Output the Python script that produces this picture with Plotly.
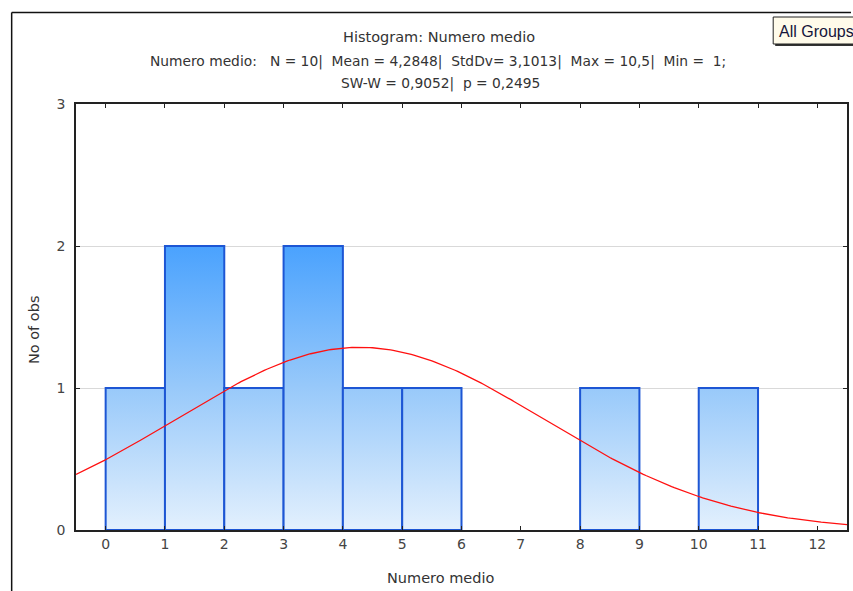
import numpy as np
import plotly.graph_objects as go

# Histogram of "Numero medio": bin edges and counts
bin_left = [0, 1, 2, 3, 4, 5, 8, 10]
bin_right = [1, 2, 3, 4, 5, 6, 9, 11]
counts = [1, 2, 1, 2, 1, 1, 1, 1]

# Summary statistics shown in the header
n_obs = 10
mean_val = 4.2848
std_val = 3.1013
bin_width = 1.0

x_ticks = list(range(0, 13))
y_ticks = [0, 1, 2, 3]

W, H = 853, 591
L, R, T, B = 76, 4, 104, 61
pw, ph = W - L - R, H - T - B


def px_x(p):
    return (p - L) / pw


def px_y(p):
    return (H - B - p) / ph


font_family = "DejaVu Sans, Liberation Sans, sans-serif"
fig = go.Figure()

bar_scale = [[0.0, "#e3f0fd"], [0.5, "#98c9fa"], [1.0, "#4aa2fe"]]
for xl, xr, c in zip(bin_left, bin_right, counts):
    fig.add_trace(go.Scatter(
        x=[xl, xl, xr, xr, xl], y=[0, c, c, 0, 0],
        mode="lines", fill="toself",
        fillgradient=dict(type="vertical", colorscale=bar_scale, start=0, stop=2),
        line=dict(color="#1d56d4", width=2),
        hoverinfo="skip", showlegend=False,
    ))

# Expected normal curve for the stated mean and standard deviation
xc = np.linspace(-0.5, 12.5, 300)
yc = n_obs * bin_width / (std_val * np.sqrt(2 * np.pi)) * np.exp(-0.5 * ((xc - mean_val) / std_val) ** 2)
fig.add_trace(go.Scatter(x=xc, y=yc, mode="lines",
                         line=dict(color="#ff1010", width=1.3),
                         hoverinfo="skip", showlegend=False))

title_font = dict(family=font_family, size=13.8, color="#333333")
label_font = dict(family=font_family, size=14.5, color="#333333")
annotations = [
    dict(text="Histogram: Numero medio", x=px_x(440), y=px_y(37),
         font=dict(family=font_family, size=14.5, color="#333333")),
    dict(text="Numero medio:   N = 10|  Mean = 4,2848|  StdDv= 3,1013|  Max = 10,5|  Min =  1;",
         x=px_x(439), y=px_y(62)),
    dict(text="SW-W = 0,9052|  p = 0,2495", x=px_x(441), y=px_y(83)),
    dict(text="No of obs", x=px_x(34), y=px_y(330), textangle=-90, font=label_font),
    dict(text="Numero medio", x=px_x(441), y=px_y(578), font=label_font),
]
for a in annotations:
    a.setdefault("font", title_font)
    a.update(xref="paper", yref="paper", showarrow=False,
             xanchor="center", yanchor="middle")

annotations.append(dict(
    text="All Groups", xref="paper", yref="paper", x=px_x(779), y=px_y(31),
    xanchor="left", yanchor="middle", showarrow=False,
    font=dict(family="Liberation Sans, Arial, sans-serif", size=16, color="#15153a"),
))

shapes = [
    # outer frame
    dict(type="line", xref="paper", yref="paper",
         x0=px_x(11.5), y0=px_y(591), x1=px_x(11.5), y1=px_y(12.5),
         line=dict(color="#111111", width=1.5)),
    dict(type="line", xref="paper", yref="paper",
         x0=px_x(11.5), y0=px_y(12.5), x1=px_x(853), y1=px_y(12.5),
         line=dict(color="#111111", width=1.5)),
    # legend box with shadow
    dict(type="rect", xref="paper", yref="paper",
         x0=px_x(777), y0=px_y(46), x1=px_x(856), y1=px_y(19),
         fillcolor="#333333", line=dict(width=0)),
    dict(type="rect", xref="paper", yref="paper",
         x0=px_x(775), y0=px_y(44), x1=px_x(856), y1=px_y(17),
         fillcolor="#fffbea", line=dict(color="#222222", width=1)),
]

axis_common = dict(
    showline=True, linecolor="#222222", linewidth=1.5, mirror="ticks",
    ticks="inside", ticklen=4, tickcolor="#222222",
    tickfont=dict(family=font_family, size=14, color="#444444"),
    zeroline=False,
)

fig.update_layout(
    width=W, height=H,
    margin=dict(l=L, r=R, t=T, b=B),
    paper_bgcolor="white", plot_bgcolor="white",
    xaxis=dict(range=[-0.5, 12.5], tickmode="array", tickvals=x_ticks,
               showgrid=False, **axis_common),
    yaxis=dict(range=[0, 3], tickmode="array", tickvals=y_ticks,
               showgrid=True, gridcolor="#d9d9d9", gridwidth=1,
               ticklabelstandoff=6, **axis_common),
    annotations=annotations,
    shapes=shapes,
    showlegend=False,
)

fig.write_html("out.html")
